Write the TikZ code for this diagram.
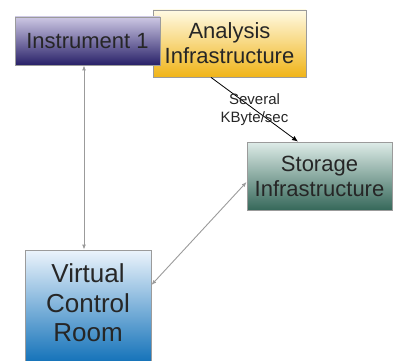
\documentclass[tikz,border=0pt]{standalone}
\usepackage{fontspec}
\setmainfont{Liberation Sans}
\usepackage{tikz}
\usetikzlibrary{arrows.meta, positioning}
\definecolor{instlite}{RGB}{205, 200, 228}
\definecolor{instdark}{RGB}{40, 32, 104}
\definecolor{analite}{RGB}{255, 250, 228}
\definecolor{anadark}{RGB}{240, 180, 24}
\definecolor{storlite}{RGB}{222, 236, 232}
\definecolor{stordark}{RGB}{54, 104, 90}
\definecolor{vcrlite}{RGB}{236, 244, 252}
\definecolor{vcrdark}{RGB}{16, 112, 184}
\definecolor{edge}{RGB}{155, 155, 155}

\begin{document}
\begin{tikzpicture}[x=1pt, y=-1pt,
  sbox/.style={rectangle, draw=edge, line width=0.8pt, shading=axis,
    font=\fontsize{22pt}{25pt}\selectfont, text=black!85,
    align=center, inner sep=2pt},
  garr/.style={{Latex[length=5pt,width=4pt]}-{Latex[length=5pt,width=4pt]},
    color=edge, line width=0.9pt},
  karr/.style={-{Latex[length=6pt,width=5pt]}, line width=0.8pt, black},
  lbl/.style={font=\fontsize{15pt}{18pt}\selectfont, text=black!85, align=center}
]
\useasboundingbox (0,0) rectangle (394,361);

\node[sbox, top color=analite, bottom color=anadark,
      minimum width=153pt, minimum height=67pt] at (229.5, 43.5) (ana)
  {Analysis\\Infrastructure};
\node[sbox, top color=instlite, bottom color=instdark,
      minimum width=145pt, minimum height=48pt] at (87.5, 41) (inst)
  {Instrument 1};
\node[sbox, top color=storlite, bottom color=stordark,
      minimum width=145pt, minimum height=68pt] at (319.5, 176) (stor)
  {Storage\\Infrastructure};
\node[sbox, top color=vcrlite, bottom color=vcrdark,
      font=\fontsize{26pt}{29.5pt}\selectfont,
      minimum width=126pt, minimum height=114pt] at (88, 307) (vcr)
  {Virtual\\Control\\Room\\[-21pt]};

\draw[garr] ([xshift=-3.5pt]inst.south) -- ([xshift=-3.5pt]inst.south |- vcr.north);
\draw[garr] ([yshift=-6pt]stor.west) -- ([yshift=22pt]vcr.east);
\draw[karr] ([xshift=-18.5pt]ana.south) -- ([xshift=-21.5pt]stor.north)
  node[lbl, midway] (rate) {Several\\KByte/sec};
\end{tikzpicture}
\end{document}
